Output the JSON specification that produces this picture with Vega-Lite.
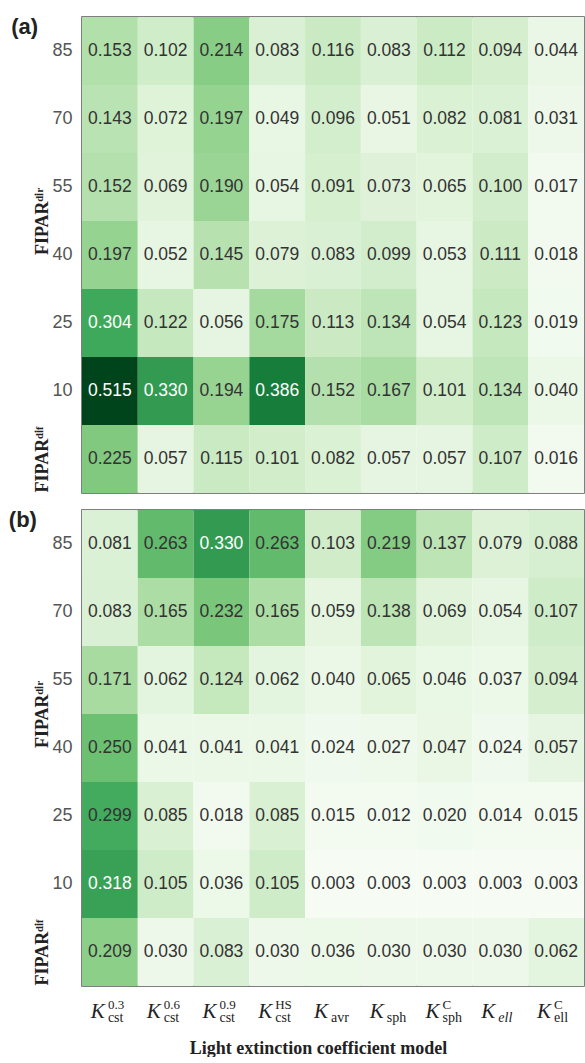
{
  "$schema": "https://vega.github.io/schema/vega-lite/v6.json",
  "background": "white",
  "padding": {"left": 8, "top": 15, "right": 0, "bottom": 0},
  "spacing": 17,
  "bounds": "flush",
  "config": {"view": {"stroke": "#555", "strokeWidth": 1.5}, "font": "Liberation Sans"},
  "datasets": {
    "cells": [
      {"panel":"a","row":"85","model":"c03","value":0.153},{"panel":"a","row":"85","model":"c06","value":0.102},{"panel":"a","row":"85","model":"c09","value":0.214},{"panel":"a","row":"85","model":"cHS","value":0.083},{"panel":"a","row":"85","model":"avr","value":0.116},{"panel":"a","row":"85","model":"sph","value":0.083},{"panel":"a","row":"85","model":"sphC","value":0.112},{"panel":"a","row":"85","model":"ell","value":0.094},{"panel":"a","row":"85","model":"ellC","value":0.044},
      {"panel":"a","row":"70","model":"c03","value":0.143},{"panel":"a","row":"70","model":"c06","value":0.072},{"panel":"a","row":"70","model":"c09","value":0.197},{"panel":"a","row":"70","model":"cHS","value":0.049},{"panel":"a","row":"70","model":"avr","value":0.096},{"panel":"a","row":"70","model":"sph","value":0.051},{"panel":"a","row":"70","model":"sphC","value":0.082},{"panel":"a","row":"70","model":"ell","value":0.081},{"panel":"a","row":"70","model":"ellC","value":0.031},
      {"panel":"a","row":"55","model":"c03","value":0.152},{"panel":"a","row":"55","model":"c06","value":0.069},{"panel":"a","row":"55","model":"c09","value":0.190},{"panel":"a","row":"55","model":"cHS","value":0.054},{"panel":"a","row":"55","model":"avr","value":0.091},{"panel":"a","row":"55","model":"sph","value":0.073},{"panel":"a","row":"55","model":"sphC","value":0.065},{"panel":"a","row":"55","model":"ell","value":0.100},{"panel":"a","row":"55","model":"ellC","value":0.017},
      {"panel":"a","row":"40","model":"c03","value":0.197},{"panel":"a","row":"40","model":"c06","value":0.052},{"panel":"a","row":"40","model":"c09","value":0.145},{"panel":"a","row":"40","model":"cHS","value":0.079},{"panel":"a","row":"40","model":"avr","value":0.083},{"panel":"a","row":"40","model":"sph","value":0.099},{"panel":"a","row":"40","model":"sphC","value":0.053},{"panel":"a","row":"40","model":"ell","value":0.111},{"panel":"a","row":"40","model":"ellC","value":0.018},
      {"panel":"a","row":"25","model":"c03","value":0.304},{"panel":"a","row":"25","model":"c06","value":0.122},{"panel":"a","row":"25","model":"c09","value":0.056},{"panel":"a","row":"25","model":"cHS","value":0.175},{"panel":"a","row":"25","model":"avr","value":0.113},{"panel":"a","row":"25","model":"sph","value":0.134},{"panel":"a","row":"25","model":"sphC","value":0.054},{"panel":"a","row":"25","model":"ell","value":0.123},{"panel":"a","row":"25","model":"ellC","value":0.019},
      {"panel":"a","row":"10","model":"c03","value":0.515},{"panel":"a","row":"10","model":"c06","value":0.330},{"panel":"a","row":"10","model":"c09","value":0.194},{"panel":"a","row":"10","model":"cHS","value":0.386},{"panel":"a","row":"10","model":"avr","value":0.152},{"panel":"a","row":"10","model":"sph","value":0.167},{"panel":"a","row":"10","model":"sphC","value":0.101},{"panel":"a","row":"10","model":"ell","value":0.134},{"panel":"a","row":"10","model":"ellC","value":0.040},
      {"panel":"a","row":"dif","model":"c03","value":0.225},{"panel":"a","row":"dif","model":"c06","value":0.057},{"panel":"a","row":"dif","model":"c09","value":0.115},{"panel":"a","row":"dif","model":"cHS","value":0.101},{"panel":"a","row":"dif","model":"avr","value":0.082},{"panel":"a","row":"dif","model":"sph","value":0.057},{"panel":"a","row":"dif","model":"sphC","value":0.057},{"panel":"a","row":"dif","model":"ell","value":0.107},{"panel":"a","row":"dif","model":"ellC","value":0.016},
      {"panel":"b","row":"85","model":"c03","value":0.081},{"panel":"b","row":"85","model":"c06","value":0.263},{"panel":"b","row":"85","model":"c09","value":0.330},{"panel":"b","row":"85","model":"cHS","value":0.263},{"panel":"b","row":"85","model":"avr","value":0.103},{"panel":"b","row":"85","model":"sph","value":0.219},{"panel":"b","row":"85","model":"sphC","value":0.137},{"panel":"b","row":"85","model":"ell","value":0.079},{"panel":"b","row":"85","model":"ellC","value":0.088},
      {"panel":"b","row":"70","model":"c03","value":0.083},{"panel":"b","row":"70","model":"c06","value":0.165},{"panel":"b","row":"70","model":"c09","value":0.232},{"panel":"b","row":"70","model":"cHS","value":0.165},{"panel":"b","row":"70","model":"avr","value":0.059},{"panel":"b","row":"70","model":"sph","value":0.138},{"panel":"b","row":"70","model":"sphC","value":0.069},{"panel":"b","row":"70","model":"ell","value":0.054},{"panel":"b","row":"70","model":"ellC","value":0.107},
      {"panel":"b","row":"55","model":"c03","value":0.171},{"panel":"b","row":"55","model":"c06","value":0.062},{"panel":"b","row":"55","model":"c09","value":0.124},{"panel":"b","row":"55","model":"cHS","value":0.062},{"panel":"b","row":"55","model":"avr","value":0.040},{"panel":"b","row":"55","model":"sph","value":0.065},{"panel":"b","row":"55","model":"sphC","value":0.046},{"panel":"b","row":"55","model":"ell","value":0.037},{"panel":"b","row":"55","model":"ellC","value":0.094},
      {"panel":"b","row":"40","model":"c03","value":0.250},{"panel":"b","row":"40","model":"c06","value":0.041},{"panel":"b","row":"40","model":"c09","value":0.041},{"panel":"b","row":"40","model":"cHS","value":0.041},{"panel":"b","row":"40","model":"avr","value":0.024},{"panel":"b","row":"40","model":"sph","value":0.027},{"panel":"b","row":"40","model":"sphC","value":0.047},{"panel":"b","row":"40","model":"ell","value":0.024},{"panel":"b","row":"40","model":"ellC","value":0.057},
      {"panel":"b","row":"25","model":"c03","value":0.299},{"panel":"b","row":"25","model":"c06","value":0.085},{"panel":"b","row":"25","model":"c09","value":0.018},{"panel":"b","row":"25","model":"cHS","value":0.085},{"panel":"b","row":"25","model":"avr","value":0.015},{"panel":"b","row":"25","model":"sph","value":0.012},{"panel":"b","row":"25","model":"sphC","value":0.020},{"panel":"b","row":"25","model":"ell","value":0.014},{"panel":"b","row":"25","model":"ellC","value":0.015},
      {"panel":"b","row":"10","model":"c03","value":0.318},{"panel":"b","row":"10","model":"c06","value":0.105},{"panel":"b","row":"10","model":"c09","value":0.036},{"panel":"b","row":"10","model":"cHS","value":0.105},{"panel":"b","row":"10","model":"avr","value":0.003},{"panel":"b","row":"10","model":"sph","value":0.003},{"panel":"b","row":"10","model":"sphC","value":0.003},{"panel":"b","row":"10","model":"ell","value":0.003},{"panel":"b","row":"10","model":"ellC","value":0.003},
      {"panel":"b","row":"dif","model":"c03","value":0.209},{"panel":"b","row":"dif","model":"c06","value":0.030},{"panel":"b","row":"dif","model":"c09","value":0.083},{"panel":"b","row":"dif","model":"cHS","value":0.030},{"panel":"b","row":"dif","model":"avr","value":0.036},{"panel":"b","row":"dif","model":"sph","value":0.030},{"panel":"b","row":"dif","model":"sphC","value":0.030},{"panel":"b","row":"dif","model":"ell","value":0.030},{"panel":"b","row":"dif","model":"ellC","value":0.062}
    ],
    "labels": [
      {"model":"c03","sub":"cst","sup":"0.3"},
      {"model":"c06","sub":"cst","sup":"0.6"},
      {"model":"c09","sub":"cst","sup":"0.9"},
      {"model":"cHS","sub":"cst","sup":"HS"},
      {"model":"avr","sub":"avr","sup":""},
      {"model":"sph","sub":"sph","sup":""},
      {"model":"sphC","sub":"sph","sup":"C"},
      {"model":"ell","sub":"ell","sup":""},
      {"model":"ellC","sub":"ell","sup":"C"}
    ]
  },
  "vconcat": [
    {
      "title": {"text": "(a)", "orient": "left", "angle": 0, "anchor": "end", "align": "right", "baseline": "top", "font": "Liberation Sans", "fontSize": 22, "fontWeight": "bold", "color": "#222", "offset": -32},
      "width": 502, "height": 476,
      "data": {"name": "cells"},
      "transform": [{"filter": "datum.panel == 'a'"}],
      "layer": [
        {
          "mark": {"type": "rect"},
          "encoding": {
            "x": {"field": "model", "type": "nominal", "scale": {"domain": ["c03","c06","c09","cHS","avr","sph","sphC","ell","ellC"]}, "axis": null},
            "y": {"field": "row", "type": "nominal", "scale": {"domain": ["85","70","55","40","25","10","dif"]},
                  "axis": {"orient": "left", "title": "FIPARᵈⁱʳ", "titleFont": "Liberation Serif", "titleFontWeight": "bold", "titleFontSize": 18, "titleColor": "#222", "titleAngle": -90, "titleX": -35, "titleY": 204, "titleAlign": "center", "titleBaseline": "alphabetic",
                           "labelExpr": "datum.value == 'dif' ? '' : datum.value", "labelFont": "Liberation Sans", "labelFontSize": 18, "labelColor": "#555", "labelPadding": 10, "ticks": false, "domain": false}},
            "color": {"field": "value", "type": "quantitative", "scale": {"domain": [0, 0.06, 0.12, 0.18, 0.24, 0.30, 0.36, 0.42, 0.48], "range": ["#f7fcf5", "#e5f5e0", "#c7e9c0", "#a1d99b", "#74c476", "#41ab5d", "#238b45", "#006d2c", "#00441b"], "clamp": true}, "legend": null}
          }
        },
        {
          "mark": {"type": "text", "font": "Liberation Sans", "fontSize": 17.5},
          "encoding": {
            "x": {"field": "model", "type": "nominal", "scale": {"domain": ["c03","c06","c09","cHS","avr","sph","sphC","ell","ellC"]}, "axis": null},
            "y": {"field": "row", "type": "nominal", "scale": {"domain": ["85","70","55","40","25","10","dif"]},
                  "axis": {"orient": "left", "title": "FIPARᵈⁱᶠ", "titleFont": "Liberation Serif", "titleFontWeight": "bold", "titleFontSize": 18, "titleColor": "#222", "titleAngle": -90, "titleX": -35, "titleY": 442, "titleAlign": "center", "titleBaseline": "alphabetic", "labels": false, "ticks": false, "domain": false}},
            "text": {"field": "value", "type": "quantitative", "format": ".3f"},
            "color": {"condition": {"test": "datum.value > 0.3", "value": "white"}, "value": "#333"}
          }
        }
      ],
      "resolve": {"axis": {"y": "independent"}}
    },
    {
      "title": {"text": "(b)", "orient": "left", "angle": 0, "anchor": "end", "align": "right", "baseline": "top", "font": "Liberation Sans", "fontSize": 22, "fontWeight": "bold", "color": "#222", "offset": -32},
      "width": 502, "height": 476,
      "data": {"name": "cells"},
      "transform": [{"filter": "datum.panel == 'b'"}],
      "layer": [
        {
          "mark": {"type": "rect"},
          "encoding": {
            "x": {"field": "model", "type": "nominal", "scale": {"domain": ["c03","c06","c09","cHS","avr","sph","sphC","ell","ellC"]}, "axis": null},
            "y": {"field": "row", "type": "nominal", "scale": {"domain": ["85","70","55","40","25","10","dif"]},
                  "axis": {"orient": "left", "title": "FIPARᵈⁱʳ", "titleFont": "Liberation Serif", "titleFontWeight": "bold", "titleFontSize": 18, "titleColor": "#222", "titleAngle": -90, "titleX": -35, "titleY": 204, "titleAlign": "center", "titleBaseline": "alphabetic",
                           "labelExpr": "datum.value == 'dif' ? '' : datum.value", "labelFont": "Liberation Sans", "labelFontSize": 18, "labelColor": "#555", "labelPadding": 10, "ticks": false, "domain": false}},
            "color": {"field": "value", "type": "quantitative", "scale": {"domain": [0, 0.06, 0.12, 0.18, 0.24, 0.30, 0.36, 0.42, 0.48], "range": ["#f7fcf5", "#e5f5e0", "#c7e9c0", "#a1d99b", "#74c476", "#41ab5d", "#238b45", "#006d2c", "#00441b"], "clamp": true}, "legend": null}
          }
        },
        {
          "mark": {"type": "text", "font": "Liberation Sans", "fontSize": 17.5},
          "encoding": {
            "x": {"field": "model", "type": "nominal", "scale": {"domain": ["c03","c06","c09","cHS","avr","sph","sphC","ell","ellC"]}, "axis": null},
            "y": {"field": "row", "type": "nominal", "scale": {"domain": ["85","70","55","40","25","10","dif"]},
                  "axis": {"orient": "left", "title": "FIPARᵈⁱᶠ", "titleFont": "Liberation Serif", "titleFontWeight": "bold", "titleFontSize": 18, "titleColor": "#222", "titleAngle": -90, "titleX": -35, "titleY": 442, "titleAlign": "center", "titleBaseline": "alphabetic", "labels": false, "ticks": false, "domain": false}},
            "text": {"field": "value", "type": "quantitative", "format": ".3f"},
            "color": {"condition": {"test": "datum.value > 0.3", "value": "white"}, "value": "#333"}
          }
        }
      ],
      "resolve": {"axis": {"y": "independent"}}
    },
    {
      "width": 502, "height": 10,
      "view": {"stroke": null},
      "data": {"name": "labels"},
      "layer": [
        {
          "mark": {"type": "text", "text": "K", "font": "Liberation Serif", "fontStyle": "italic", "fontSize": 21, "align": "right", "baseline": "alphabetic", "dx": -5, "dy": 10, "color": "#222"},
          "encoding": {
            "x": {"field": "model", "type": "nominal", "scale": {"domain": ["c03","c06","c09","cHS","avr","sph","sphC","ell","ellC"]},
                  "axis": {"title": "Light extinction coefficient model", "titleFont": "Liberation Serif", "titleFontWeight": "bold", "titleFontSize": 18, "titleColor": "#222", "titlePadding": 26, "titleX": 236, "labels": false, "ticks": false, "domain": false}}
          }
        },
        {
          "transform": [{"filter": "datum.model != 'ell'"}],
          "mark": {"type": "text", "font": "Liberation Serif", "fontSize": 14, "align": "left", "baseline": "alphabetic", "dx": -2, "dy": 14, "color": "#222"},
          "encoding": {
            "x": {"field": "model", "type": "nominal", "scale": {"domain": ["c03","c06","c09","cHS","avr","sph","sphC","ell","ellC"]}},
            "text": {"field": "sub", "type": "nominal"}
          }
        },
        {
          "transform": [{"filter": "datum.model == 'ell'"}],
          "mark": {"type": "text", "font": "Liberation Serif", "fontStyle": "italic", "fontSize": 14, "align": "left", "baseline": "alphabetic", "dx": -2, "dy": 14, "color": "#222"},
          "encoding": {
            "x": {"field": "model", "type": "nominal", "scale": {"domain": ["c03","c06","c09","cHS","avr","sph","sphC","ell","ellC"]}},
            "text": {"field": "sub", "type": "nominal"}
          }
        },
        {
          "mark": {"type": "text", "font": "Liberation Serif", "fontSize": 13, "align": "left", "baseline": "alphabetic", "dx": -2, "dy": 1, "color": "#222"},
          "encoding": {
            "x": {"field": "model", "type": "nominal", "scale": {"domain": ["c03","c06","c09","cHS","avr","sph","sphC","ell","ellC"]}},
            "text": {"field": "sup", "type": "nominal"}
          }
        }
      ]
    }
  ]
}
